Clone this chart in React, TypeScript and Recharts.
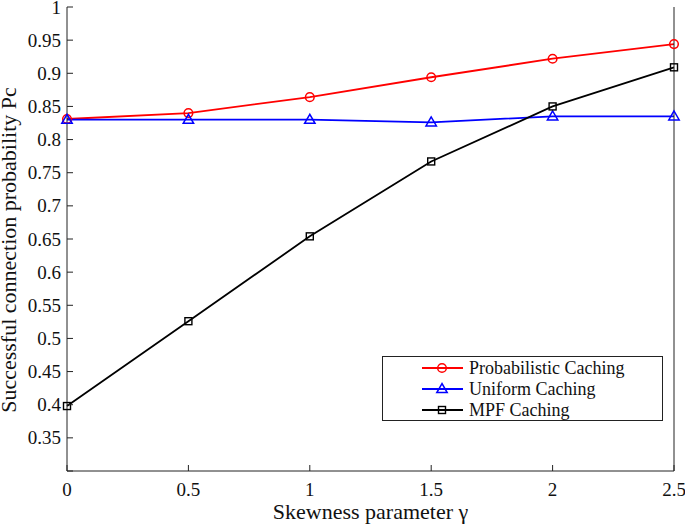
import React from 'react'
import { Line, LineChart, XAxis, YAxis } from 'recharts'

const skewness = [0, 0.5, 1, 1.5, 2, 2.5]
const probabilisticCaching = [0.831, 0.84, 0.864, 0.894, 0.922, 0.944]
const uniformCaching = [0.83, 0.83, 0.83, 0.826, 0.835, 0.835]
const mpfCaching = [0.398, 0.526, 0.654, 0.767, 0.85, 0.909]
const xTicks = [0, 0.5, 1, 1.5, 2, 2.5]
const yTicks = [0.3, 0.35, 0.4, 0.45, 0.5, 0.55, 0.6, 0.65, 0.7, 0.75, 0.8, 0.85, 0.9, 0.95, 1]

const FONT = '"Liberation Serif", "Times New Roman", serif'
const TICK_LEN = 6

const data = skewness.map((s, i) => ({
  s,
  prob: probabilisticCaching[i],
  uni: uniformCaching[i],
  mpf: mpfCaching[i],
}))

type MarkerKind = 'circle' | 'triangle' | 'square'

const series: Array<{ key: string; name: string; color: string; marker: MarkerKind }> = [
  { key: 'prob', name: 'Probabilistic Caching', color: '#ff0000', marker: 'circle' },
  { key: 'uni', name: 'Uniform Caching', color: '#0000ff', marker: 'triangle' },
  { key: 'mpf', name: 'MPF Caching', color: '#000000', marker: 'square' },
]

function Marker({ cx, cy, kind, color }: { cx: number; cy: number; kind: MarkerKind; color: string }) {
  if (kind === 'circle') {
    return <circle cx={cx} cy={cy} r={4.3} fill="none" stroke={color} strokeWidth={1.5} />
  }
  if (kind === 'triangle') {
    const h = 9
    return (
      <polygon
        points={`${cx},${cy - h * 0.6} ${cx - 5.2},${cy + h * 0.4} ${cx + 5.2},${cy + h * 0.4}`}
        fill="none"
        stroke={color}
        strokeWidth={1.5}
      />
    )
  }
  return <rect x={cx - 3.5} y={cy - 3.5} width={7} height={7} fill="none" stroke={color} strokeWidth={1.4} />
}

const fmt = (v: number) => String(v)

function LeftTick(props: any) {
  const { x, y, payload } = props
  const label = payload.value === 0.3 ? '' : fmt(payload.value)
  return (
    <g>
      <line x1={x} y1={y} x2={x + TICK_LEN} y2={y} stroke="#222" />
      <text x={x - 6} y={y + 6.5} textAnchor="end" fontSize={19} fontFamily={FONT} fill="#111">
        {label}
      </text>
    </g>
  )
}

function RightTick(props: any) {
  const { x, y } = props
  return <line x1={x} y1={y} x2={x - TICK_LEN} y2={y} stroke="#222" />
}

function BottomTick(props: any) {
  const { x, y, payload } = props
  return (
    <g>
      <line x1={x} y1={y} x2={x} y2={y - TICK_LEN} stroke="#222" />
      <text x={x} y={y + 25} textAnchor="middle" fontSize={19} fontFamily={FONT} fill="#111">
        {fmt(payload.value)}
      </text>
    </g>
  )
}

function TopTick(props: any) {
  const { x, y } = props
  return <line x1={x} y1={y} x2={x} y2={y + TICK_LEN} stroke="#222" />
}

export default function App() {
  return (
    <div style={{ position: 'absolute', left: 0, top: 0, width: 685, height: 526, background: '#fff' }}>
      <LineChart width={685} height={526} data={data} margin={{ top: 7, right: 0, bottom: 0, left: 0 }}>
        <XAxis
          xAxisId="bottom"
          dataKey="s"
          type="number"
          domain={[0, 2.5]}
          ticks={xTicks}
          height={55}
          tickSize={0}
          tickMargin={0}
          tick={<BottomTick />}
          tickLine={false}
          axisLine={{ stroke: '#222' }}
          label={{
            value: 'Skewness parameter γ',
            position: 'insideBottom',
            offset: 7,
            fontSize: 22,
            fontFamily: FONT,
            fill: '#111',
          }}
        />
        <XAxis
          xAxisId="top"
          orientation="top"
          dataKey="s"
          type="number"
          domain={[0, 2.5]}
          ticks={xTicks}
          height={0}
          tickSize={0}
          tickMargin={0}
          tick={<TopTick />}
          tickLine={false}
          axisLine={{ stroke: '#222' }}
        />
        <YAxis
          yAxisId="left"
          type="number"
          domain={[0.3, 1]}
          ticks={yTicks}
          width={67}
          tickSize={0}
          tickMargin={0}
          tick={<LeftTick />}
          tickLine={false}
          axisLine={{ stroke: '#222' }}
          interval={0}
        />
        <YAxis
          yAxisId="right"
          orientation="right"
          type="number"
          domain={[0.3, 1]}
          ticks={yTicks}
          width={11}
          tickSize={0}
          tickMargin={0}
          tick={<RightTick />}
          tickLine={false}
          axisLine={{ stroke: '#222' }}
          interval={0}
        />
        {series.map((s) => (
          <Line
            key={s.key}
            xAxisId="bottom"
            yAxisId="left"
            dataKey={s.key}
            name={s.name}
            stroke={s.color}
            strokeWidth={1.8}
            isAnimationActive={false}
            dot={(p: any) => <Marker key={`${s.key}-${p.index}`} cx={p.cx} cy={p.cy} kind={s.marker} color={s.color} />}
            activeDot={false}
          />
        ))}
        <text
          x={16}
          y={250}
          transform="rotate(-90 16 250)"
          textAnchor="middle"
          fontSize={22}
          fontFamily={FONT}
          fill="#111"
        >
          Successful connection probability Pc
        </text>
      </LineChart>
      <div
        style={{
          position: 'absolute',
          left: 382,
          top: 356,
          width: 279,
          height: 63,
          border: '1px solid #222',
          background: '#fff',
          fontFamily: FONT,
          fontSize: 18,
          color: '#111',
        }}
      >
        {series.map((s, i) => (
          <div key={s.key} style={{ position: 'absolute', left: 38, top: 1 + i * 21, height: 20, display: 'flex', alignItems: 'center' }}>
            <svg width={44} height={20}>
              <line x1={1} y1={10} x2={42} y2={10} stroke={s.color} strokeWidth={1.8} />
              <Marker cx={21} cy={10} kind={s.marker} color={s.color} />
            </svg>
            <span style={{ marginLeft: 4, whiteSpace: 'nowrap' }}>{s.name}</span>
          </div>
        ))}
      </div>
    </div>
  )
}
